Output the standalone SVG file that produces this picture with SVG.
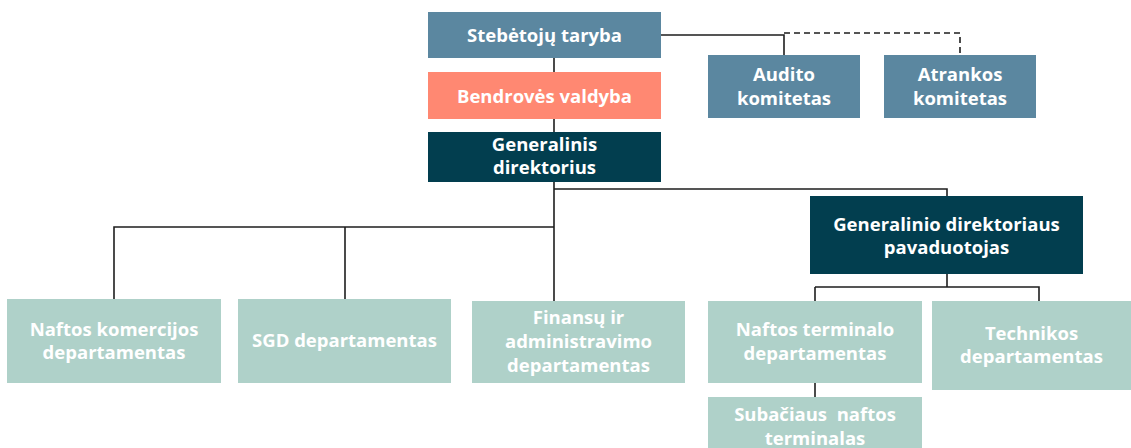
<svg xmlns="http://www.w3.org/2000/svg" width="1131" height="448" viewBox="0 0 1131 448">
<style>
.t{font-family:"Open Sans","Noto Sans","Liberation Sans",sans-serif;font-weight:700;font-size:18.5px;fill:#fff;text-anchor:middle}
.blue{fill:#5B87A0}
.coral{fill:#FF8872}
.dark{fill:#023E4F}
.light{fill:#AFD1C9}
.ln{fill:none;stroke:#1e1e1e;stroke-width:1.6}
.dash{fill:none;stroke:#1e1e1e;stroke-width:1.6;stroke-dasharray:6 4}
</style>
<rect width="1131" height="448" fill="#fff"/>
<g id="connectors">
<path class="ln" d="M554 58V72M554 119V132M554 182V301"/>
<path class="ln" d="M661 35H784V55"/>
<path class="dash" d="M784 33H960V55"/>
<path class="ln" d="M554 189H947V196"/>
<path class="ln" d="M554 227H114V299M345 227V299"/>
<path class="ln" d="M947 274V287M815 287H1039V301M815 287V301"/>
<path class="ln" d="M815 383V397"/>
</g>
<g id="stebetoju"><rect class="blue" x="428" y="12" width="233" height="46"/><text class="t" x="544.5" y="42">Stebėtojų taryba</text></g>
<g id="valdyba"><rect class="coral" x="428" y="72" width="233" height="47"/><text class="t" x="544.5" y="103">Bendrovės valdyba</text></g>
<g id="gd"><rect class="dark" x="428" y="132" width="233" height="50"/><text class="t" x="544.5" y="151">Generalinis</text><text class="t" x="544.5" y="174">direktorius</text></g>
<g id="audito"><rect class="blue" x="708" y="55" width="152" height="63"/><text class="t" x="784" y="81">Audito</text><text class="t" x="784" y="105">komitetas</text></g>
<g id="atrankos"><rect class="blue" x="884" y="55" width="152" height="63"/><text class="t" x="960" y="81">Atrankos</text><text class="t" x="960" y="105">komitetas</text></g>
<g id="pavaduotojas"><rect class="dark" x="810" y="196" width="273" height="78"/><text class="t" x="946.5" y="231">Generalinio direktoriaus</text><text class="t" x="946.5" y="254">pavaduotojas</text></g>
<g id="naftos-komercijos"><rect class="light" x="7" y="299" width="214" height="84"/><text class="t" x="114" y="336">Naftos komercijos</text><text class="t" x="114" y="359">departamentas</text></g>
<g id="sgd"><rect class="light" x="238" y="299" width="213" height="84"/><text class="t" x="344.5" y="347">SGD departamentas</text></g>
<g id="finansu"><rect class="light" x="472" y="301" width="213" height="82"/><text class="t" x="578.5" y="324">Finansų ir</text><text class="t" x="578.5" y="348">administravimo</text><text class="t" x="578.5" y="372">departamentas</text></g>
<g id="naftos-terminalo"><rect class="light" x="708" y="301" width="214" height="82"/><text class="t" x="815" y="336">Naftos terminalo</text><text class="t" x="815" y="360">departamentas</text></g>
<g id="technikos"><rect class="light" x="932" y="301" width="199" height="89"/><text class="t" x="1031.5" y="340">Technikos</text><text class="t" x="1031.5" y="363">departamentas</text></g>
<g id="subaciaus"><rect class="light" x="708" y="397" width="214" height="51"/><text class="t" x="815" y="421" xml:space="preserve">Subačiaus  naftos</text><text class="t" x="815" y="445">terminalas</text></g>
</svg>
